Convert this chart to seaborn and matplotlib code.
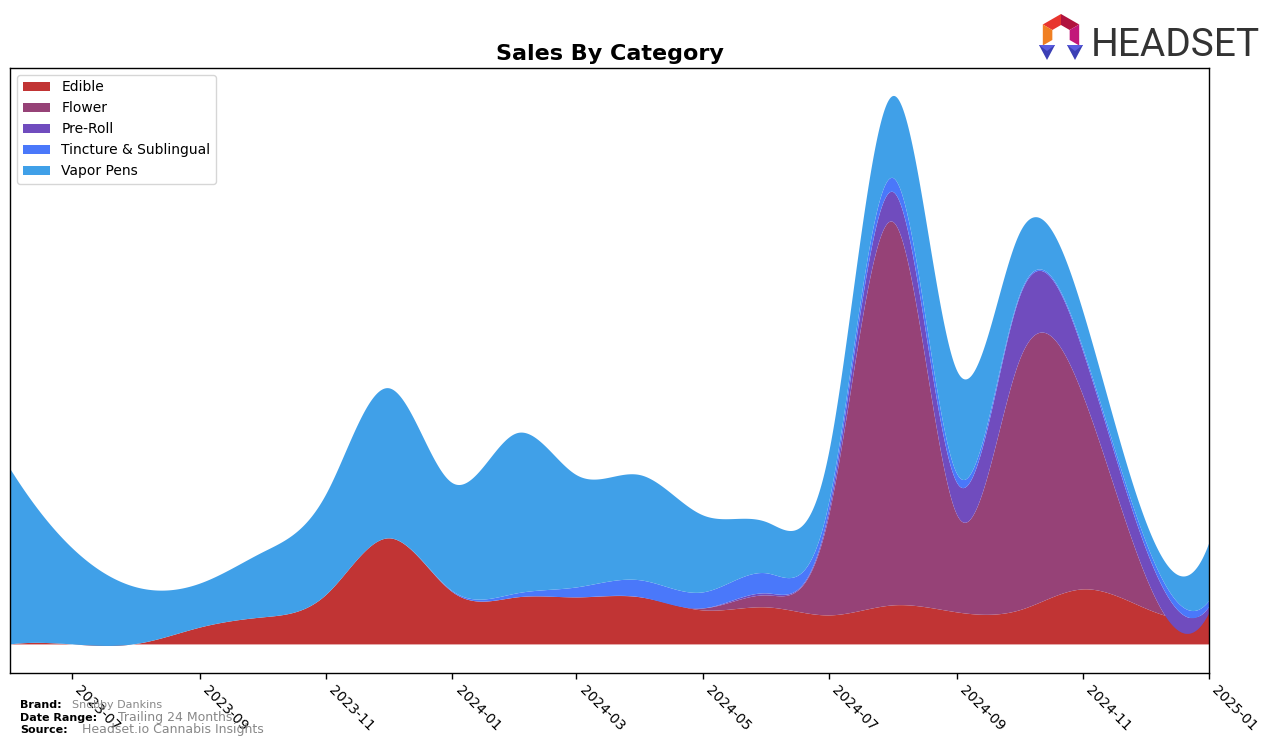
import numpy as np
import pandas as pd
import matplotlib
matplotlib.use("Agg")
import matplotlib.pyplot as plt
import matplotlib.dates as mdates
from matplotlib.patches import Polygon
import seaborn as sns

# ---------------- data (monthly) ----------------
months = pd.date_range("2023-06-01", "2025-01-01", freq="MS")
categories = ["Edible", "Flower", "Pre-Roll", "Tincture & Sublingual", "Vapor Pens"]
edible = [0, 0, 0.5, 17, 27, 50, 106, 52, 47, 47, 47, 34, 37, 29, 39, 32, 34, 55, 36, 32]
flower = [0, 0, 0, 0, 0, 0, 0, 0, 0, 0, 0, 2, 12, 100, 383, 97, 249, 193, 33, 0]
preroll = [0, 0, 0, 0, 0, 0, 0, 0, 0, 0, 0, 0, 2, 5, 30, 32, 63, 44, 28, 6]
tincture = [0, 0, 0, 0, 0, 0, 0, 1, 4, 10, 17, 16, 20, 8, 14, 9, 2, 3, 7, 6]
vapor = [175, 96, 56.5, 44, 65, 101, 150, 108, 160, 112, 105, 77, 51, 50, 82, 103, 62, 37, 20, 58]
colors = ["#C13434", "#964277", "#704CBE", "#4A78FA", "#40A0E8"]

brand = "Snobby Dankins"
date_range = "Trailing 24 Months"
source = "Headset.io Cannabis Insights"


def spline(x, y, xs):
    """Not-a-knot cubic spline (drawing only)."""
    x = np.asarray(x, float)
    y = np.asarray(y, float)
    n = len(x)
    h = np.diff(x)
    A = np.zeros((n, n))
    b = np.zeros(n)
    A[0, 0], A[0, 1], A[0, 2] = h[1], -(h[0] + h[1]), h[0]
    A[-1, -3], A[-1, -2], A[-1, -1] = h[-1], -(h[-2] + h[-1]), h[-2]
    for i in range(1, n - 1):
        A[i, i - 1] = h[i - 1]
        A[i, i] = 2 * (h[i - 1] + h[i])
        A[i, i + 1] = h[i]
        b[i] = 6 * ((y[i + 1] - y[i]) / h[i] - (y[i] - y[i - 1]) / h[i - 1])
    M = np.linalg.solve(A, b)
    idx = np.clip(np.searchsorted(x, xs) - 1, 0, n - 2)
    x0, x1 = x[idx], x[idx + 1]
    hh = x1 - x0
    return (M[idx] * (x1 - xs) ** 3 / (6 * hh) + M[idx + 1] * (xs - x0) ** 3 / (6 * hh)
            + (y[idx] / hh - M[idx] * hh / 6) * (x1 - xs)
            + (y[idx + 1] / hh - M[idx + 1] * hh / 6) * (xs - x0))


sns.set_theme(style="white")
plt.rcParams["font.family"] = ["DejaVu Sans"]
plt.rcParams["text.color"] = "black"
plt.rcParams["axes.labelcolor"] = "black"

fig = plt.figure(figsize=(12.76, 7.45), dpi=100)
W, H = 1276, 745
ax = fig.add_axes([10 / W, 1 - 673 / H, (1209 - 10) / W, (673 - 68) / H])

xnum = mdates.date2num(months.to_pydatetime())
xs = np.linspace(xnum[0], xnum[-1], 1200)
series = [edible, flower, preroll, tincture, vapor]
smooth = [spline(xnum, s, xs) for s in series]

ax.stackplot(xs, *smooth, labels=categories, colors=colors, alpha=1.0, linewidth=0)

total = np.sum(smooth, axis=0)
top = total.max()
ax.set_xlim(xnum[0], xnum[-1])
ax.set_ylim(-0.053 * top, 1.05 * top)
ax.set_yticks([])

ax.xaxis.set_major_locator(mdates.MonthLocator(bymonth=[1, 3, 5, 7, 9, 11]))
ax.xaxis.set_major_formatter(mdates.DateFormatter("%Y-%m"))
ax.tick_params(axis="x", which="major", length=4, width=1, color="black",
               labelsize=10, labelcolor="black", bottom=True, direction="out")
for lab in ax.get_xticklabels():
    lab.set_rotation(-45)
    lab.set_ha("left")
    lab.set_rotation_mode("default")

for sp in ax.spines.values():
    sp.set_visible(True)
    sp.set_color("black")
    sp.set_linewidth(1)

ax.set_title("Sales By Category", fontsize=16, fontweight="bold", pad=6, color="black")

leg = ax.legend(loc="upper left", fontsize=10, frameon=True, fancybox=True,
                borderpad=0.4, handlelength=2.0, bbox_to_anchor=(0.0, 1.0))
leg.get_frame().set_edgecolor("#cccccc")
leg.get_frame().set_facecolor("white")
for t in leg.get_texts():
    t.set_color("black")

# footer text
def fy(y):
    return 1 - y / H

fig.text(20 / W, fy(708), "Brand:", fontsize=8, fontweight="bold", color="black")
fig.text(72 / W, fy(708), brand, fontsize=8, color="#888888")
fig.text(20 / W, fy(721), "Date Range:", fontsize=8, fontweight="bold", color="black")
fig.text(118 / W, fy(721), date_range, fontsize=9, color="#888888")
fig.text(20 / W, fy(733), "Source:", fontsize=8, fontweight="bold", color="black")
fig.text(82 / W, fy(733), source, fontsize=9, color="#888888")

# logo
def P(pts, c):
    fig.patches.append(Polygon([(x / W, fy(y)) for x, y in pts], closed=True,
                               facecolor=c, edgecolor="none",
                               transform=fig.transFigure, figure=fig))

cx, cy, R, r = 1061, 35, 21, 10
ang = np.deg2rad([90, 30, -30, -90, -150, 150])
outer = [(cx + R * np.cos(a), cy - R * np.sin(a)) for a in ang]
inner = [(cx + r * np.cos(a), cy - r * np.sin(a)) for a in ang]
seg_cols = {5: "#E8352E", 0: "#B0133E", 1: "#C2187A", 4: "#F07F22"}
for i, c in seg_cols.items():
    j = (i + 1) % 6
    P([outer[i], outer[j], inner[j], inner[i]], c)
P([(1039, 45), (1055, 45), (1047, 60)], "#3B3FB5")
P([(1039, 45), (1055, 45), (1047, 51)], "#5A5CE0")
P([(1067, 45), (1083, 45), (1075, 60)], "#3B3FB5")
P([(1067, 45), (1083, 45), (1075, 51)], "#5A5CE0")
fig.text(1091 / W, fy(56), "HEADSET", fontsize=28, color="#333333",
         family=["Roboto", "DejaVu Sans"], va="baseline")

fig.savefig("out.png", dpi=100)
